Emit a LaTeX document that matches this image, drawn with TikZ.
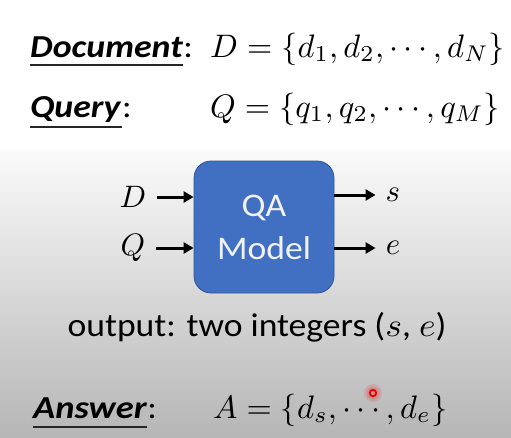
\documentclass[tikz,border=0pt]{standalone}
\usepackage{graphicx}
\usepackage{fontspec}
\setmainfont{Carlito}
\usetikzlibrary{arrows.meta,calc}
\definecolor{bgtop}{HTML}{FAFAFA}
\definecolor{bgbot}{HTML}{B6B6B6}
\definecolor{boxfill}{HTML}{4170C2}
\definecolor{boxline}{HTML}{2F5597}
\definecolor{boxtext}{HTML}{F2F2F2}
\newcommand\bigmath[2][3.2]{\scalebox{#1}{\fontsize{10}{12}\selectfont$#2$}}
\newcommand\widetxt[2][1.12]{\scalebox{#1}[1]{#2}}
\tikzset{
  lbl/.style={anchor=base west, inner sep=0pt, font=\fontsize{32}{34}\selectfont},
  mth/.style={anchor=base west, inner sep=0pt},
  uline/.style={line width=1.4pt, black!85},
  arr/.style={line width=3pt, -{Triangle[length=10pt,width=11pt]}},
  io/.style={inner sep=0pt},
}
\begin{document}
\begin{tikzpicture}[x=1pt,y=-1pt]
\useasboundingbox (0,0) rectangle (511,437);
\fill[white] (0,0) rectangle (511,150);
\shade[top color=bgtop, bottom color=bgbot] (0,150) rectangle (511,437);

% Document line
\node[lbl] (docw) at (30,57) {\widetxt{\textbf{\textit{Document}}}};
\node[lbl, anchor=base west] (docc) at (docw.base east) {\widetxt{:}};
\draw[uline] ($(docw.base west)+(0,8)$) -- ($(docw.base east)+(0,8)$);
\node[mth] (dset) at (210,57) {\bigmath[3.25]{D=\{d_1,d_2,\cdots,d_N\}}};

% Query line
\node[lbl] (qw) at (30,117) {\widetxt{\textbf{\textit{Query}}}};
\node[lbl, anchor=base west] (qc) at (qw.base east) {\widetxt{:}};
\draw[uline] ($(qw.base west)+(0,10)$) -- ($(qw.base east)+(0,10)$);
\node[mth] (qset) at (210,117) {\bigmath[3.25]{Q=\{q_1,q_2,\cdots,q_M\}}};

% QA model box
\node[draw=boxline, line width=0.8pt, fill=boxfill, rounded corners=17pt,
      minimum width=140pt, minimum height=132pt, align=center,
      text=boxtext, font=\fontsize{33}{43}\selectfont] (qa) at (264,227)
      {\widetxt[1.08]{QA}\\\widetxt[1.08]{Model}};

\node[io] (din) at (133,197) {\bigmath[3.1]{D}};
\node[io] (qin) at (133,248) {\bigmath[3.1]{Q}};
\node[io] (sout) at (393,195) {\bigmath[3.1]{s}};
\node[io] (eout) at (393,248) {\bigmath[3.1]{e}};

\draw[arr, shorten <=11pt] (din.east) -- (din.east -| qa.west);
\draw[arr, shorten <=11pt] (qin.east) -- (qin.east -| qa.west);
\draw[arr, shorten >=10pt] (qa.east |- sout.west) -- (sout.west);
\draw[arr, shorten >=10pt] (qa.east |- eout.west) -- (eout.west);

% output text
\node[anchor=base, inner sep=0pt, font=\fontsize{33}{35}\selectfont] (outt) at (257,336)
  {\widetxt[1.08]{output: two integers (\bigmath[3.3]{s}, \bigmath[3.3]{e})}};

% Answer line
\node[lbl] (aw) at (33,418) {\widetxt[1.14]{\textbf{\textit{Answer}}}};
\node[lbl, anchor=base west] (ac) at (aw.base east) {\widetxt{:}};
\draw[uline] ($(aw.base west)+(0,9)$) -- ($(aw.base east)+(0,9)$);
\node[mth] (aset) at (213,418) {\bigmath[3.25]{A=\{d_s,\cdots,d_e\}}};

% laser pointer dot
\fill[red, opacity=0.12] (373,393) circle (9);
\fill[red, opacity=0.15] (373,393) circle (6.5);
\draw[red!90!black, line width=1.8pt] (373,393) circle (3.2);
\end{tikzpicture}
\end{document}
